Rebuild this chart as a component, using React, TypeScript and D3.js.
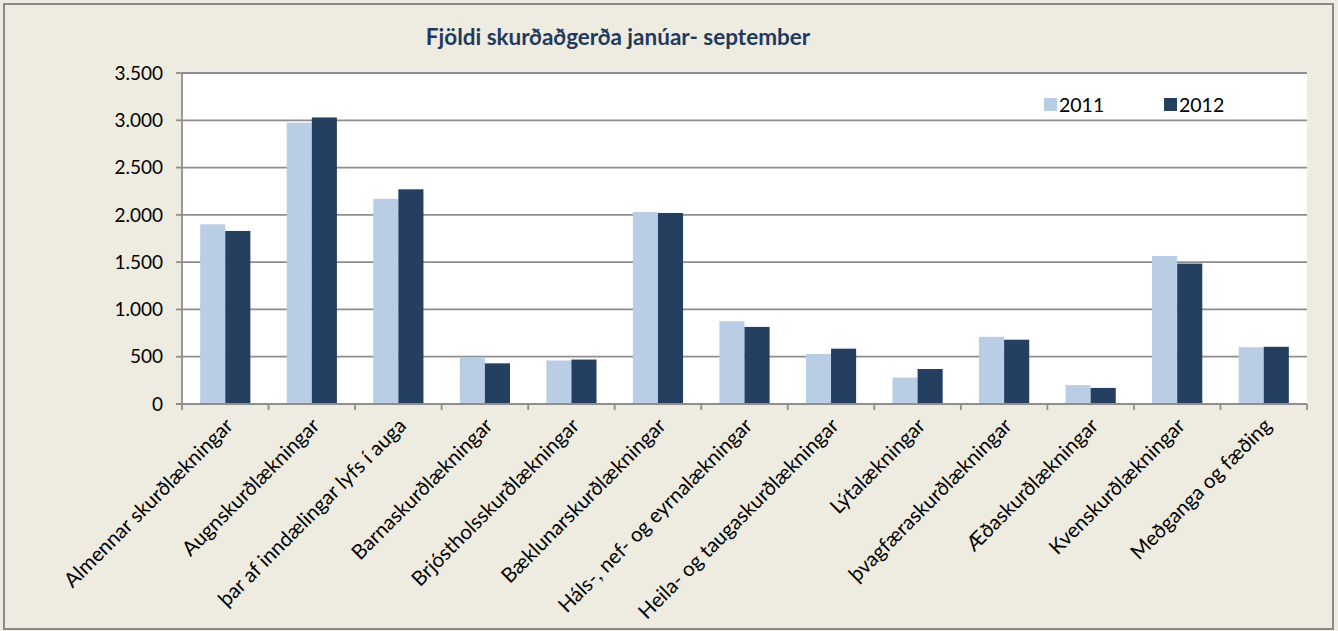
import React from "react";
import * as d3 from "d3";

const categories = [
  "Almennar skurðlækningar",
  "Augnskurðlækningar",
  "þar af inndælingar lyfs í auga",
  "Barnaskurðlækningar",
  "Brjóstholsskurðlækningar",
  "Bæklunarskurðlækningar",
  "Háls-, nef- og eyrnalækningar",
  "Heila- og taugaskurðlækningar",
  "Lýtalækningar",
  "þvagfæraskurðlækningar",
  "Æðaskurðlækningar",
  "Kvenskurðlækningar",
  "Meðganga og fæðing",
];
const values2011 = [1900, 2975, 2170, 490, 460, 2030, 875, 530, 280, 710, 200, 1565, 600];
const values2012 = [1830, 3030, 2270, 430, 470, 2020, 815, 585, 370, 680, 170, 1485, 605];
const yTicks = [0, 500, 1000, 1500, 2000, 2500, 3000, 3500];
const seriesNames = ["2011", "2012"];
const title = "Fjöldi skurðaðgerða janúar- september";

const W = 1338;
const H = 631;
const plot = { left: 182, right: 1307, top: 73, bottom: 404 };
const colors = ["#B9CDE5", "#243F60"];
const font = "Lato, 'Open Sans', sans-serif";

export default function App() {
  const x = d3.scaleBand<string>().domain(categories).range([plot.left, plot.right]).padding(0);
  const y = d3.scaleLinear().domain([0, 3500]).range([plot.bottom, plot.top]);
  const bw = x.bandwidth() * 0.29;
  const fmt = (v: number) => d3.format(",")(v).replace(/,/g, ".");
  const boundaries = d3.range(categories.length + 1).map((i) => plot.left + i * x.bandwidth());

  return (
    <svg width={W} height={H} style={{ position: "absolute", left: 0, top: 0 }} fontFamily={font}>
      <rect x={0} y={0} width={W} height={H} fill="#EEECE1" />
      <rect x={4} y={4} width={1329} height={625} fill="none" stroke="#8A8A8A" strokeWidth={2} />
      <text x={618} y={45} textAnchor="middle" fontSize={22.5} fontWeight="bold" fill="#1F3A60">
        {title}
      </text>
      <rect x={plot.left} y={plot.top} width={plot.right - plot.left} height={plot.bottom - plot.top} fill="#FFFFFF" />
      {yTicks.map((t) => (
        <g key={t}>
          {t > 0 && (
            <line x1={plot.left} x2={plot.right} y1={y(t)} y2={y(t)} stroke="#8E8E8E" strokeWidth={1.8} />
          )}
          <line x1={plot.left - 6} x2={plot.left} y1={y(t)} y2={y(t)} stroke="#8E8E8E" strokeWidth={1.8} />
          <text x={163} y={y(t)} dy="0.35em" textAnchor="end" fontSize={19} fill="#000">
            {fmt(t)}
          </text>
        </g>
      ))}
      {categories.map((c, i) => (
        <g key={c}>
          <rect x={x(c)! + (x.bandwidth() - 2 * bw) / 2} y={y(values2011[i])} width={bw} height={y(0) - y(values2011[i])} fill={colors[0]} />
          <rect x={x(c)! + (x.bandwidth() - 2 * bw) / 2 + bw} y={y(values2012[i])} width={bw} height={y(0) - y(values2012[i])} fill={colors[1]} />
        </g>
      ))}
      <line x1={plot.left} x2={plot.left} y1={plot.top} y2={plot.bottom} stroke="#8E8E8E" strokeWidth={1.8} />
      <line x1={plot.left - 6} x2={plot.right} y1={plot.bottom} y2={plot.bottom} stroke="#8E8E8E" strokeWidth={1.8} />
      {boundaries.map((b, i) => (
        <line key={i} x1={b} x2={b} y1={plot.bottom} y2={plot.bottom + 6} stroke="#8E8E8E" strokeWidth={1.8} />
      ))}
      {categories.map((c) => {
        const cx = x(c)! + x.bandwidth() / 2;
        return (
          <text key={c} transform={`translate(${cx + 9},${427}) rotate(-45)`} textAnchor="end" fontSize={20.5} fill="#000">
            {c}
          </text>
        );
      })}
      {seriesNames.map((s, i) => (
        <g key={s} transform={`translate(${1044 + i * 120},98)`}>
          <rect x={0} y={0} width={13} height={13} fill={colors[i]} />
          <text x={15} y={13.5} fontSize={19.5} fill="#000">
            {s}
          </text>
        </g>
      ))}
    </svg>
  );
}
